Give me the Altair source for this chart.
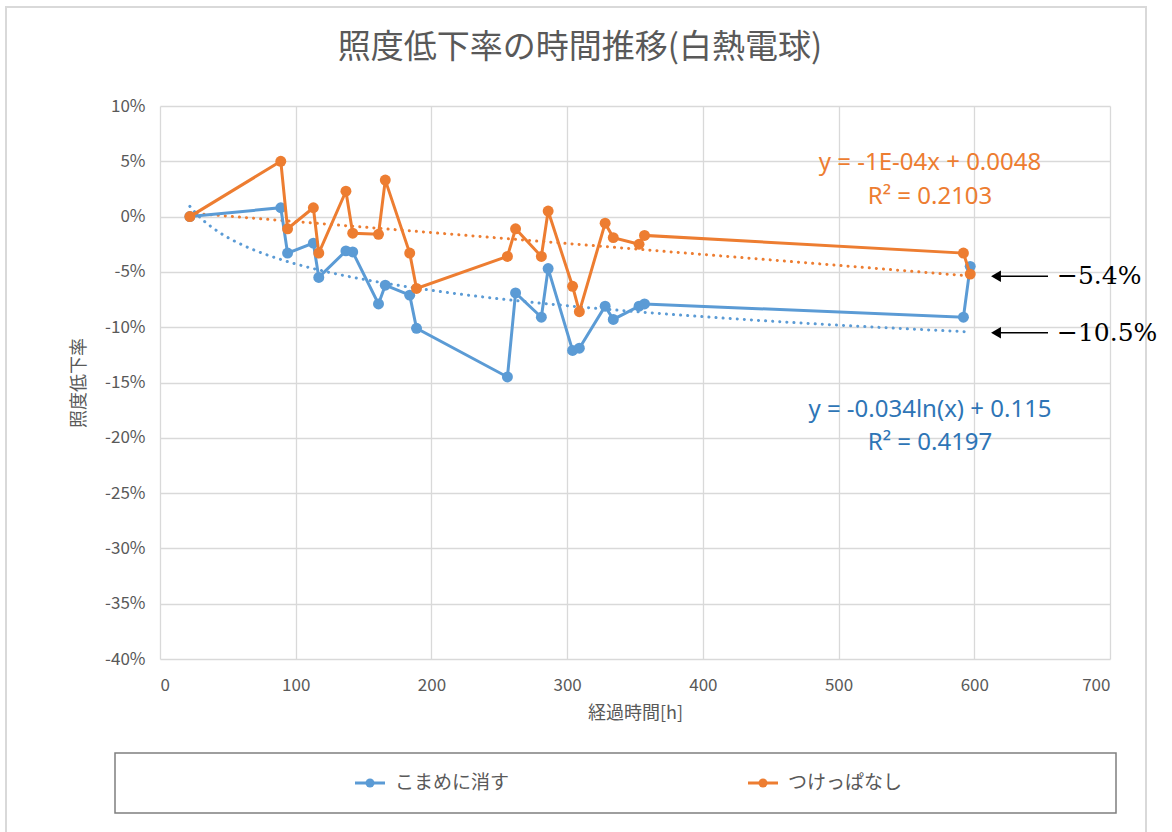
import altair as alt
import pandas as pd

# Elapsed hours at each measurement (shared by both series)
hours = [22, 89, 94, 113, 117, 137, 142, 161, 166, 184, 189, 256, 262,
         281, 286, 304, 309, 328, 334, 353, 357, 592, 597]

series_names = ["こまめに消す", "つけっぱなし"]

# Illuminance drop rate [%]
rate_switching = [0.0, 0.8, -3.3, -2.4, -5.5, -3.1, -3.2, -7.9, -6.2, -7.1, -10.1,
                  -14.5, -6.9, -9.1, -4.7, -12.1, -11.9, -8.1, -9.3, -8.1, -7.9,
                  -9.1, -4.5]
rate_always_on = [0.0, 5.0, -1.1, 0.8, -3.3, 2.3, -1.5, -1.6, 3.3, -3.3, -6.5,
                  -3.6, -1.1, -3.6, 0.5, -6.3, -8.6, -0.6, -1.9, -2.5, -1.7,
                  -3.3, -5.2]

series_colors = ["#5B9BD5", "#ED7D31"]
equation_colors = ["#2E75B6", "#ED7D31"]
trend_methods = ["log", "linear"]
equations = [
    ["y = -0.034ln(x) + 0.115", "R² = 0.4197"],
    ["y = -1E-04x + 0.0048", "R² = 0.2103"],
]

# Trend-line end values called out on the right
callout_values = [-5.4, -10.5]
callout_labels = ["−5.4%", "−10.5%"]

chart_title = "照度低下率の時間推移(白熱電球)"

df = pd.DataFrame({
    "hours": hours * 2,
    "rate": [v / 100 for v in rate_switching + rate_always_on],
    "series": [series_names[0]] * len(hours) + [series_names[1]] * len(hours),
})
callouts = pd.DataFrame({
    "rate": [v / 100 for v in callout_values],
    "label": callout_labels,
})
one_row = pd.DataFrame({"k": [0]})

W, H = 950, 553
FONT = "Noto Sans CJK JP"
GREY = "#595959"

x_scale = alt.Scale(domain=[0, 700], nice=False, zero=False)
y_scale = alt.Scale(domain=[-0.4, 0.1], nice=False, zero=False)

x_axis = alt.Axis(values=list(range(0, 701, 100)), format="d", title="経過時間[h]",
                  grid=True, domain=False, ticks=False, labelPadding=18,
                  titlePadding=11)
y_axis = alt.Axis(values=[v / 100 for v in range(-40, 11, 5)],
                  labelExpr="(datum.value < -0.0001 ? '-' : '') + format(abs(datum.value), '.0%')",
                  title="照度低下率", grid=True, domain=False, ticks=False,
                  labelPadding=15, titlePadding=16)

X = alt.X("hours:Q", scale=x_scale, axis=x_axis)
Y = alt.Y("rate:Q", scale=y_scale, axis=y_axis)

layers = []

# outer chart frame and legend box
layers.append(
    alt.Chart(one_row).mark_rect(fillOpacity=0, stroke="#D9D9D9", strokeWidth=2).encode(
        x=alt.value(-154), x2=alt.value(986), y=alt.value(-99), y2=alt.value(740))
)
layers.append(
    alt.Chart(one_row).mark_rect(fillOpacity=0, stroke="#7F7F7F", strokeWidth=1.5).encode(
        x=alt.value(-45), x2=alt.value(956), y=alt.value(647), y2=alt.value(707))
)

# dotted trend lines
for name, color, method in zip(series_names, series_colors, trend_methods):
    layers.append(
        alt.Chart(df).transform_filter(alt.datum.series == name)
        .transform_regression("hours", "rate", method=method)
        .mark_line(strokeDash=[0.1, 7], strokeCap="round", strokeWidth=3, color=color)
        .encode(x=X, y=Y)
    )

# measured series: line then markers, orange drawn above blue
for name, color in zip(series_names, series_colors):
    base = alt.Chart(df).transform_filter(alt.datum.series == name)
    layers.append(base.mark_line(strokeWidth=3, color=color).encode(x=X, y=Y))
    layers.append(
        base.mark_point(filled=True, opacity=1, size=120, color=color).encode(x=X, y=Y)
    )

# trend-line equations
eq_positions = [(770, 304, 337), (770, 57, 91)]
for (lines, color, (ex, ey1, ey2)) in zip(equations, equation_colors, eq_positions):
    for txt, ey in zip(lines, (ey1, ey2)):
        layers.append(
            alt.Chart(one_row).mark_text(font="Noto Sans", fontSize=24, color=color,
                                         align="center", baseline="middle").encode(
                x=alt.value(ex), y=alt.value(ey), text=alt.value(txt))
        )

# arrows with end values
layers.append(
    alt.Chart(callouts).mark_rule(color="black", strokeWidth=1.5).encode(
        x=alt.value(840), x2=alt.value(888), y=Y)
)
layers.append(
    alt.Chart(callouts).mark_point(shape="triangle-left", filled=True, opacity=1,
                                   color="black", size=130).encode(
        x=alt.value(836), y=Y)
)
layers.append(
    alt.Chart(callouts).mark_text(font="DejaVu Serif", fontSize=25, color="black",
                                  align="left", baseline="middle").encode(
        x=alt.value(897), y=Y, text="label:N")
)

# legend entries
for i, (name, color) in enumerate(zip(series_names, series_colors)):
    x0 = 195 + 393 * i
    layers.append(
        alt.Chart(one_row).mark_rule(color=color, strokeWidth=3).encode(
            x=alt.value(x0), x2=alt.value(x0 + 30), y=alt.value(677))
    )
    layers.append(
        alt.Chart(one_row).mark_point(filled=True, opacity=1, size=80, color=color).encode(
            x=alt.value(x0 + 15), y=alt.value(677))
    )
    layers.append(
        alt.Chart(one_row).mark_text(font=FONT, fontSize=19, color=GREY,
                                     align="left", baseline="middle").encode(
            x=alt.value(x0 + 40), y=alt.value(677), text=alt.value(name))
    )

# chart title
layers.append(
    alt.Chart(one_row).mark_text(font=FONT, fontSize=33, color=GREY,
                                 align="center", baseline="middle").encode(
        x=alt.value(420), y=alt.value(-58), text=alt.value(chart_title))
)

chart = alt.layer(*layers).properties(
    width=W, height=H,
    padding={"left": 160, "top": 106, "right": 62, "bottom": 173},
    autosize="none",
).configure_view(stroke=None).configure_axis(
    gridColor="#D9D9D9", gridWidth=1.3, labelFont=FONT, labelFontSize=17,
    labelColor=GREY, titleFont=FONT, titleFontSize=18, titleColor=GREY,
    titleFontWeight="normal",
)

chart.save("out.html", embed_options={"renderer": "svg", "actions": False})
